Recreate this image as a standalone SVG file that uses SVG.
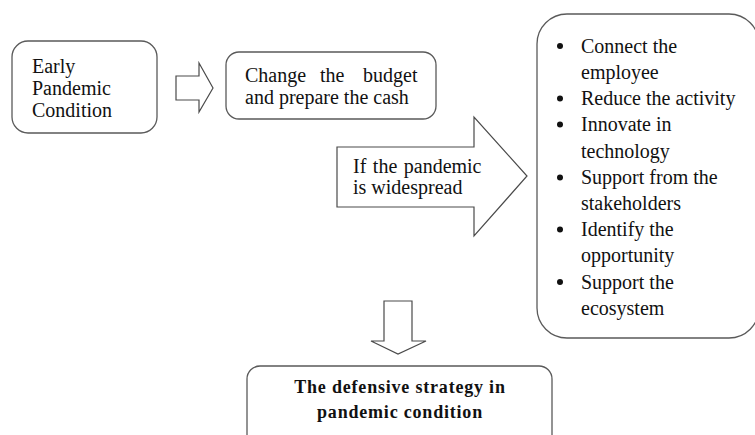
<svg xmlns="http://www.w3.org/2000/svg" width="755" height="435" viewBox="0 0 755 435">
<style>
.box{fill:#fff;stroke:#5a5a5a;stroke-width:1.3}
.arr{fill:#fff;stroke:#4a4a4a;stroke-width:1.2;stroke-linejoin:miter}
.t{font-family:"Liberation Serif","Times New Roman",serif;font-size:20px;fill:#111}
.b{font-family:"Liberation Serif","Times New Roman",serif;font-size:18px;font-weight:bold;fill:#111;letter-spacing:0.8px}
.dot{fill:#111}
</style>
<rect width="755" height="435" fill="#fff"/>
<g id="early">
<rect class="box" x="12" y="41" width="145" height="92" rx="16"/>
<text class="t" x="32" y="73">Early</text>
<text class="t" x="32" y="95">Pandemic</text>
<text class="t" x="32" y="117">Condition</text>
</g>
<g id="budget">
<rect class="box" x="226" y="52" width="210" height="67" rx="13"/>
<text class="t" y="82"><tspan x="245">Change</tspan><tspan x="320">the</tspan><tspan x="363">budget</tspan></text>
<text class="t" x="245" y="104">and prepare the cash</text>
</g>
<g id="actions">
<rect class="box" x="537" y="14" width="222" height="324" rx="30"/>
<circle class="dot" cx="560" cy="46" r="3"/>
<circle class="dot" cx="560" cy="98.5" r="3"/>
<circle class="dot" cx="560" cy="124.5" r="3"/>
<circle class="dot" cx="560" cy="177.5" r="3"/>
<circle class="dot" cx="560" cy="229.5" r="3"/>
<circle class="dot" cx="560" cy="282" r="3"/>
<text class="t" x="581" y="52.5">Connect the</text>
<text class="t" x="581" y="78.5">employee</text>
<text class="t" x="581" y="105">Reduce the activity</text>
<text class="t" x="581" y="131">Innovate in</text>
<text class="t" x="581" y="157.5">technology</text>
<text class="t" x="581" y="184">Support from the</text>
<text class="t" x="581" y="210">stakeholders</text>
<text class="t" x="581" y="236">Identify the</text>
<text class="t" x="581" y="262">opportunity</text>
<text class="t" x="581" y="288.5">Support the</text>
<text class="t" x="581" y="314.5">ecosystem</text>
</g>
<g id="result">
<rect class="box" x="247" y="366" width="305" height="90" rx="13"/>
<text class="b" x="400" y="393" text-anchor="middle">The defensive strategy in</text>
<text class="b" x="400" y="418" text-anchor="middle">pandemic condition</text>
</g>
<g id="connectors">
<path class="arr" d="M176,76 H199 V63 L213,88 L199,112 V100 H176 Z"/>
<g id="widespread">
<path class="arr" d="M337,147 H474 V117 L527,176 L474,236 V207 H337 Z"/>
<text class="t" x="353" y="172.5" word-spacing="1.5">If the pandemic</text>
<text class="t" x="353" y="193.5">is widespread</text>
</g>
<path class="arr" d="M384,301 H412 V341 H426 L398,354 L371,341 H384 Z"/>
</g>
</svg>
